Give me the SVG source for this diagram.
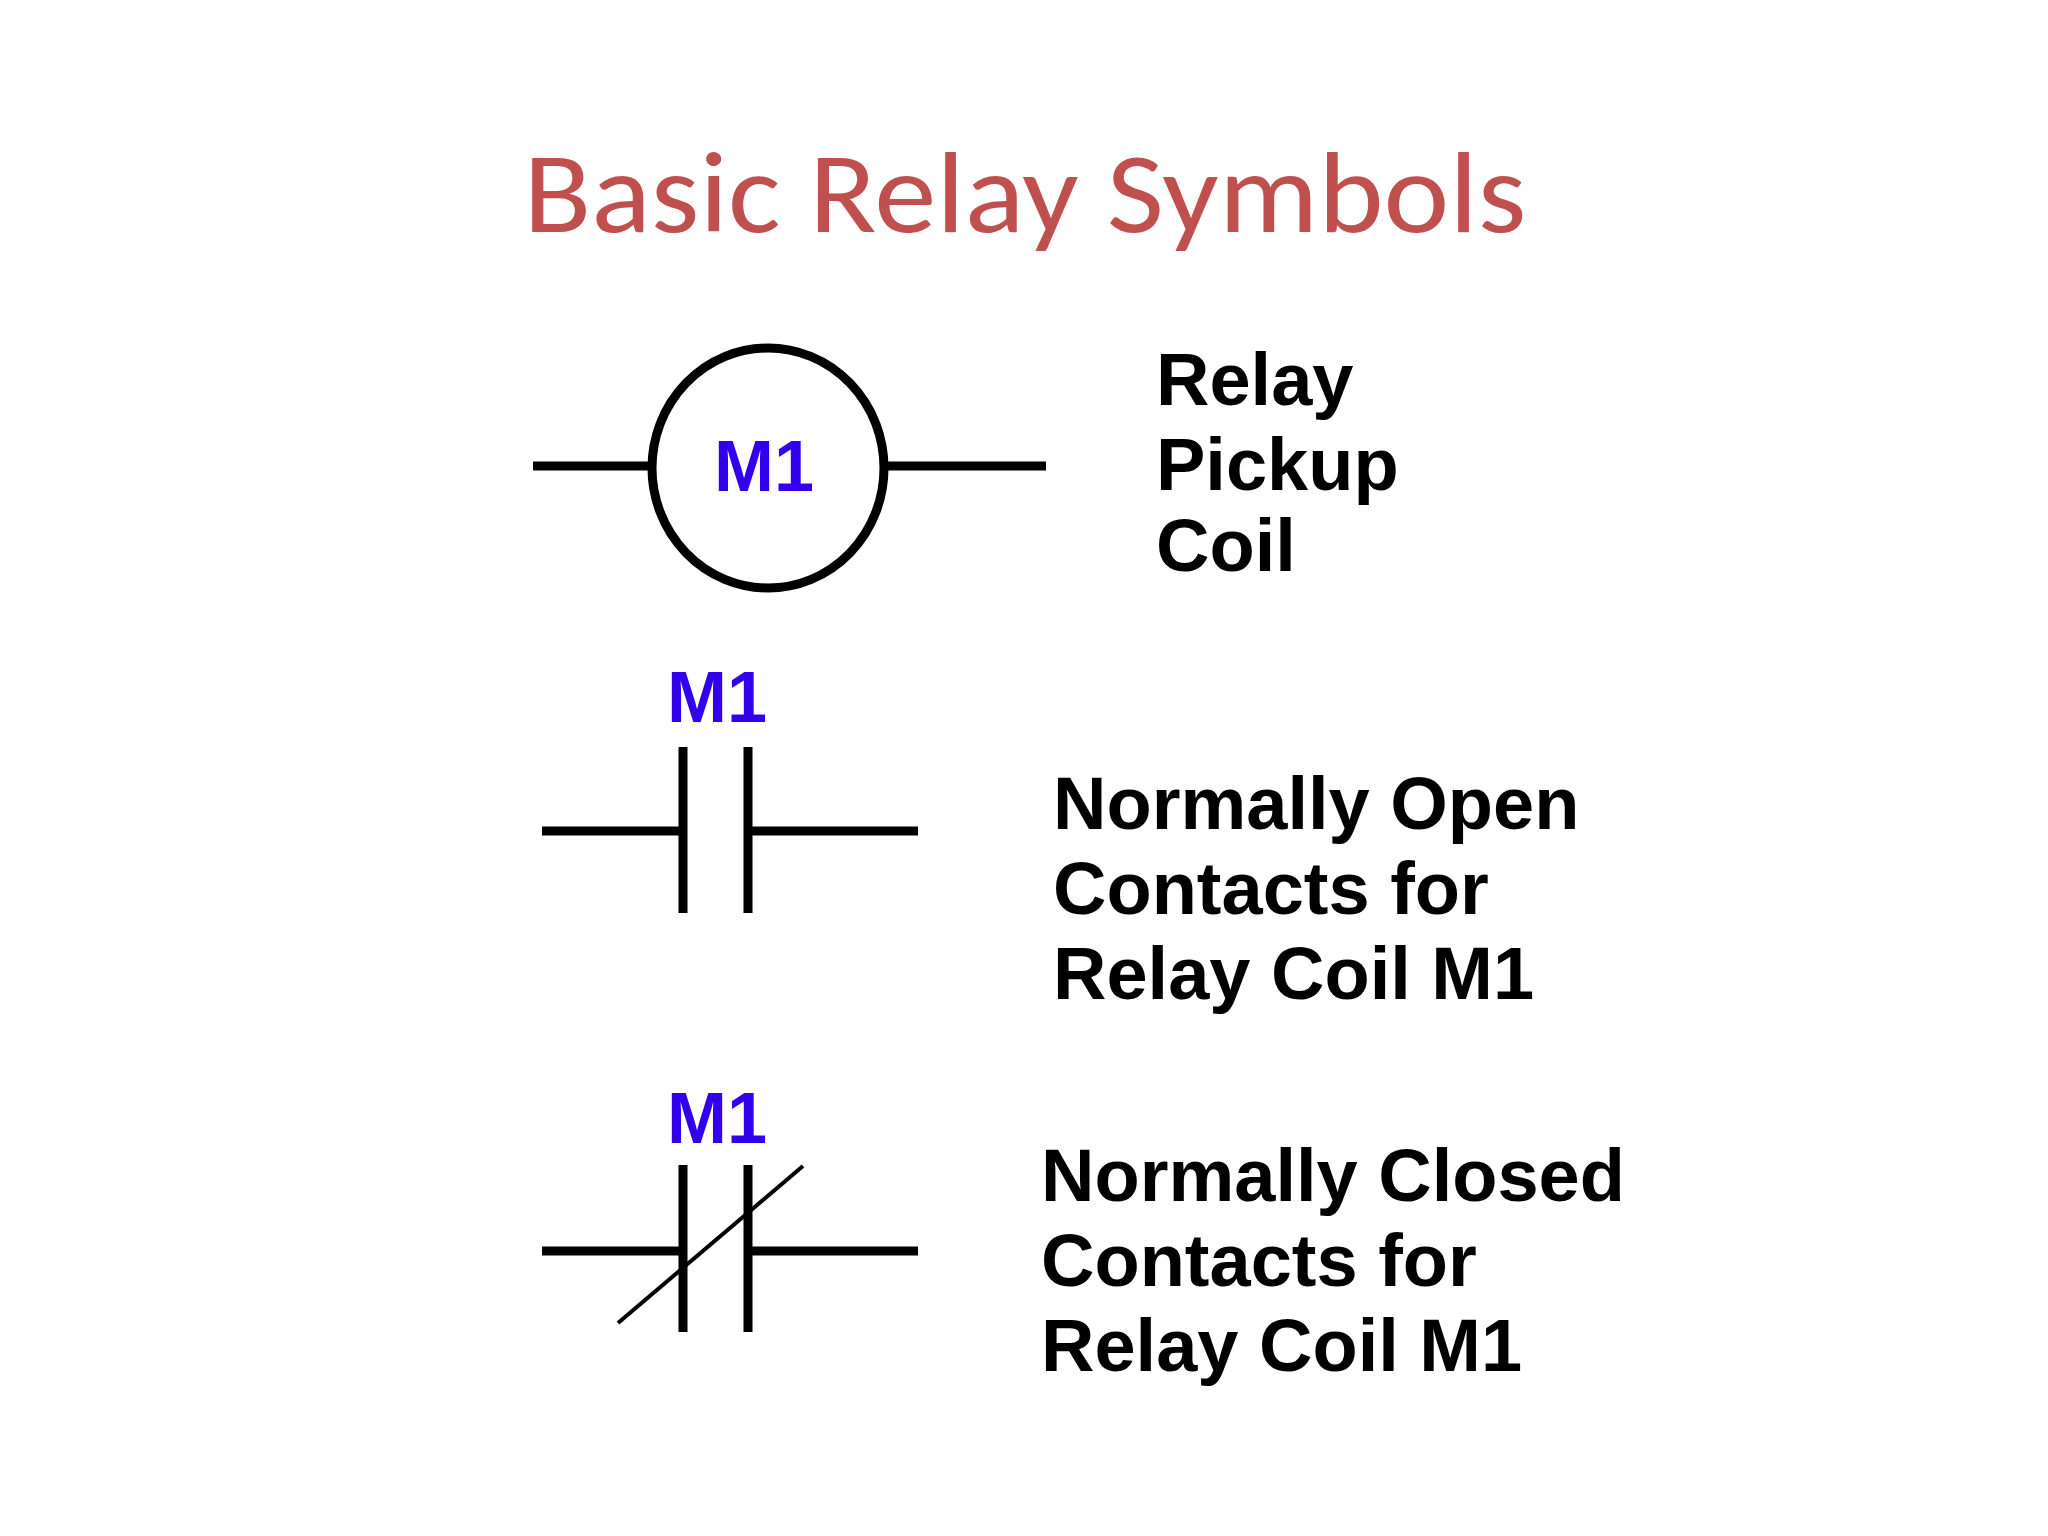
<svg xmlns="http://www.w3.org/2000/svg" width="2048" height="1536" viewBox="0 0 2048 1536">
<style>
.t{font-family:"Liberation Sans",Arial,sans-serif;font-weight:bold;font-size:74px;fill:#000}
.m{font-family:"Liberation Sans",Arial,sans-serif;font-weight:bold;font-size:72px;fill:#3300ee;text-anchor:middle}
.w{stroke:#000;stroke-width:9;fill:none}
</style>
<rect width="2048" height="1536" fill="#fff"/>
<text x="1025" y="232" text-anchor="middle" font-family="Carlito,'Open Sans',sans-serif" font-size="116" fill="#c0504d" textLength="1003" lengthAdjust="spacingAndGlyphs">Basic Relay Symbols</text>
<g id="coil">
<line class="w" x1="533" y1="466" x2="653" y2="466" stroke-width="7"/>
<line class="w" x1="884" y1="466" x2="1046" y2="466" stroke-width="7"/>
<ellipse class="w" cx="768" cy="468" rx="116" ry="120" stroke-width="7"/>
<text class="m" x="764" y="491">M1</text>
<text class="t" x="1156" y="405">Relay</text>
<text class="t" x="1156" y="490">Pickup</text>
<text class="t" x="1156" y="571">Coil</text>
</g>
<g id="no">
<text class="m" x="717" y="722">M1</text>
<line class="w" x1="542" y1="831" x2="683" y2="831"/>
<line class="w" x1="748" y1="831" x2="918" y2="831"/>
<line class="w" x1="683" y1="747" x2="683" y2="913"/>
<line class="w" x1="748" y1="747" x2="748" y2="913"/>
<text class="t" x="1053" y="829">Normally Open</text>
<text class="t" x="1053" y="914">Contacts for</text>
<text class="t" x="1053" y="999">Relay Coil M1</text>
</g>
<g id="nc">
<text class="m" x="717" y="1143">M1</text>
<line class="w" x1="542" y1="1251" x2="683" y2="1251"/>
<line class="w" x1="748" y1="1251" x2="918" y2="1251"/>
<line class="w" x1="683" y1="1165" x2="683" y2="1332"/>
<line class="w" x1="748" y1="1165" x2="748" y2="1332"/>
<line x1="618" y1="1323" x2="803" y2="1166" stroke="#000" stroke-width="4"/>
<text class="t" x="1041" y="1201">Normally Closed</text>
<text class="t" x="1041" y="1286">Contacts for</text>
<text class="t" x="1041" y="1371">Relay Coil M1</text>
</g>
</svg>
